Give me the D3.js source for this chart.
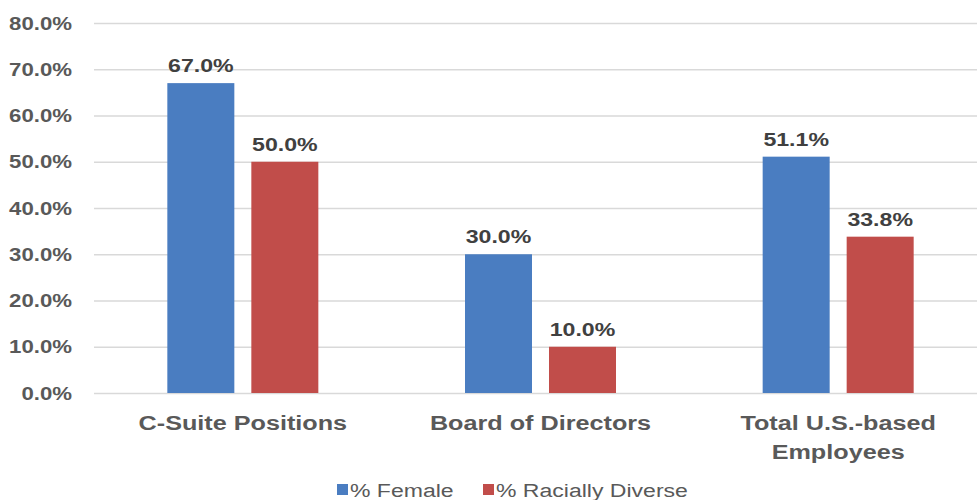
<!DOCTYPE html>
<html><head><meta charset="utf-8">
<script src="https://cdn.jsdelivr.net/npm/d3@7"></script>
<style>body{margin:0;background:#fff}svg{display:block}text{font-family:"Liberation Sans",Arial,sans-serif}</style>
</head><body><svg id="c" width="977" height="500"></svg>
<script>
const categories = [["C-Suite Positions"], ["Board of Directors"], ["Total U.S.-based", "Employees"]];
const seriesNames = ["% Female", "% Racially Diverse"];
const female = [67.0, 30.0, 51.1];
const diverse = [50.0, 10.0, 33.8];
const yTicks = [0, 10, 20, 30, 40, 50, 60, 70, 80];
const colors = ["#4a7dc1", "#c14d4a"];

const svg = d3.select("#c");
const x0 = d3.scaleBand().domain(d3.range(categories.length)).range([94, 987]).paddingInner(0).paddingOuter(0);
const y = d3.scaleLinear().domain([0, 80]).range([393, 23]);
const x1 = d3.scaleBand().domain([0, 1]).range([0, x0.bandwidth()]).paddingInner(0.2024).paddingOuter(0.873);

function stext(g, x, yy, txt, anchor, size, weight, fill, sx) {
  return g.append("text").attr("transform", `translate(${x},${yy}) scale(${sx},1)`)
    .attr("text-anchor", anchor).attr("font-size", size).attr("font-weight", weight)
    .attr("fill", fill).text(txt);
}

// gridlines
const yAxis = d3.axisLeft(y).tickValues(yTicks).tickSize(-(987 - 94)).tickFormat("");
const ga = svg.append("g").attr("transform", "translate(94,0)").call(yAxis);
ga.select(".domain").remove();
ga.selectAll("line").attr("stroke", "#d9d9d9").attr("stroke-width", 1.5);

yTicks.forEach(t => stext(svg, 72, y(t) + 6.5, t.toFixed(1) + "%", "end", 18.5, "bold", "#595959", 1.2));

const data = categories.map((c, i) => [female[i], diverse[i]]);
data.forEach((vals, i) => {
  vals.forEach((v, s) => {
    const bx = x0(i) + x1(s);
    svg.append("rect").attr("x", bx).attr("y", y(v)).attr("width", x1.bandwidth())
      .attr("height", y(0) - y(v)).attr("fill", colors[s]);
    stext(svg, bx + x1.bandwidth() / 2, y(v) - 11, v.toFixed(1) + "%", "middle", 18.5, "bold", "#404040", 1.25);
  });
  categories[i].forEach((line, k) => {
    stext(svg, x0(i) + x0.bandwidth() / 2, 430 + k * 29, line, "middle", 21, "bold", "#595959", 1.2);
  });
});

// legend
const leg = [[337, 350], [483, 496]];
seriesNames.forEach((n, s) => {
  svg.append("rect").attr("x", leg[s][0]).attr("y", 484).attr("width", 11).attr("height", 11).attr("fill", colors[s]);
  stext(svg, leg[s][1], 497, n, "start", 18, "normal", "#595959", 1.28);
});
</script></body></html>
